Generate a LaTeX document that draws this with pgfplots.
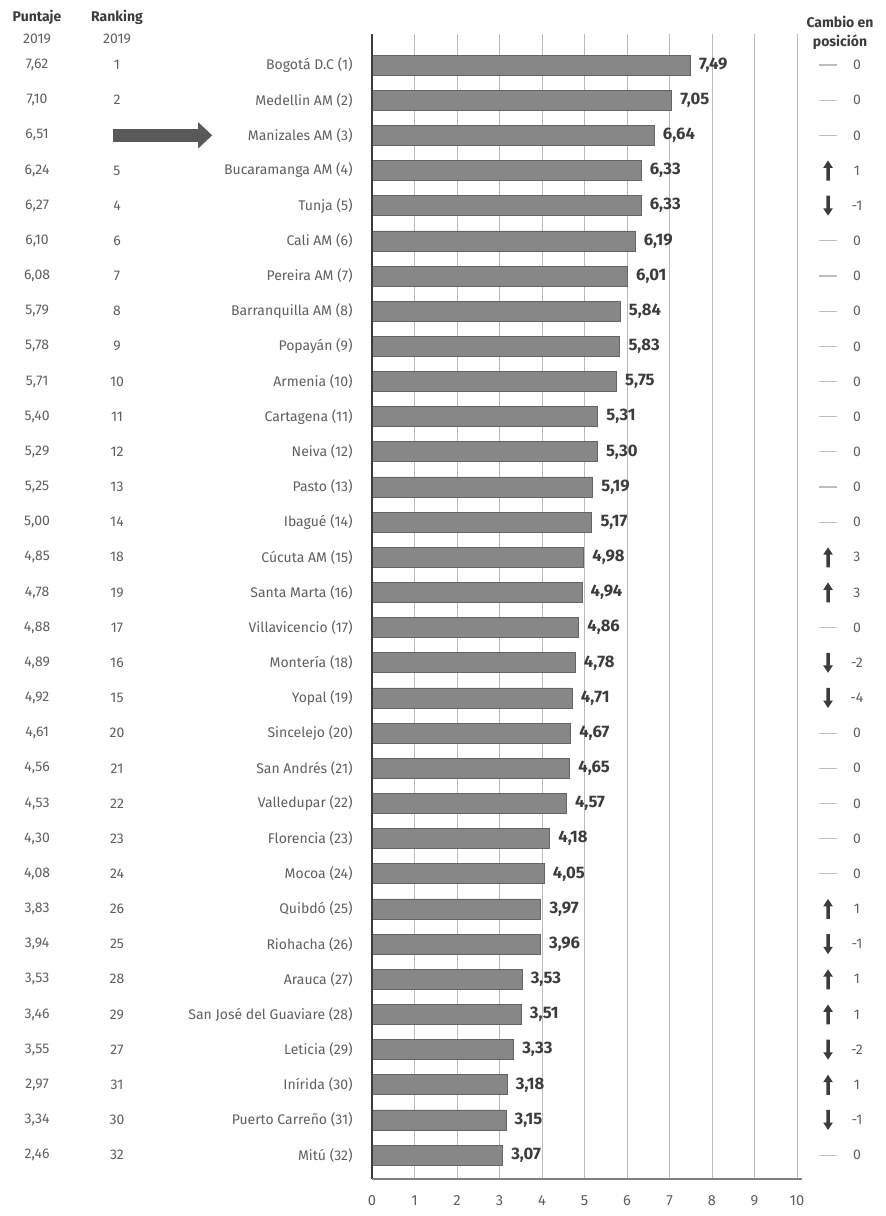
\documentclass[border=0pt]{standalone}
\usepackage{fontspec}
\setmainfont{Fira Sans}
\usepackage{pgfplots}
\pgfplotsset{compat=1.18}
\usepackage{pgfplotstable}
\usetikzlibrary{arrows.meta}

\definecolor{bargray}{RGB}{135,135,135}
\definecolor{baredge}{RGB}{100,100,100}
\definecolor{txtgray}{RGB}{95,95,95}
\definecolor{darktxt}{RGB}{60,60,60}
\definecolor{gridgray}{RGB}{185,185,185}

\pgfdeclareplotmark{uparr}{%
  \pgfpathmoveto{\pgfqpoint{0pt}{7.5pt}}%
  \pgfpathlineto{\pgfqpoint{3.6pt}{2pt}}%
  \pgfpathlineto{\pgfqpoint{1.3pt}{2pt}}%
  \pgfpathlineto{\pgfqpoint{1.3pt}{-7.5pt}}%
  \pgfpathlineto{\pgfqpoint{-1.3pt}{-7.5pt}}%
  \pgfpathlineto{\pgfqpoint{-1.3pt}{2pt}}%
  \pgfpathlineto{\pgfqpoint{-3.6pt}{2pt}}%
  \pgfpathclose\pgfusepathqfill}
\pgfdeclareplotmark{downarr}{%
  \pgfpathmoveto{\pgfqpoint{0pt}{-7.5pt}}%
  \pgfpathlineto{\pgfqpoint{3.6pt}{-2pt}}%
  \pgfpathlineto{\pgfqpoint{1.3pt}{-2pt}}%
  \pgfpathlineto{\pgfqpoint{1.3pt}{7.5pt}}%
  \pgfpathlineto{\pgfqpoint{-1.3pt}{7.5pt}}%
  \pgfpathlineto{\pgfqpoint{-1.3pt}{-2pt}}%
  \pgfpathlineto{\pgfqpoint{-3.6pt}{-2pt}}%
  \pgfpathclose\pgfusepathqfill}
\pgfdeclareplotmark{zdash}{%
  \pgfpathmoveto{\pgfqpoint{-7pt}{0pt}}%
  \pgfpathlineto{\pgfqpoint{7pt}{0pt}}%
  \pgfusepathqstroke}

\pgfplotstableread{
row value
1 7.49
2 7.05
3 6.64
4 6.33
5 6.33
6 6.19
7 6.01
8 5.84
9 5.83
10 5.75
11 5.31
12 5.30
13 5.19
14 5.17
15 4.98
16 4.94
17 4.86
18 4.78
19 4.71
20 4.67
21 4.65
22 4.57
23 4.18
24 4.05
25 3.97
26 3.96
27 3.53
28 3.51
29 3.33
30 3.18
31 3.15
32 3.07
}\bartab

\pgfplotstableread{
row score
1 7,62
2 7,10
3 6,51
4 6,24
5 6,27
6 6,10
7 6,08
8 5,79
9 5,78
10 5,71
11 5,40
12 5,29
13 5,25
14 5,00
15 4,85
16 4,78
17 4,88
18 4,89
19 4,92
20 4,61
21 4,56
22 4,53
23 4,30
24 4,08
25 3,83
26 3,94
27 3,53
28 3,46
29 3,55
30 2,97
31 3,34
32 2,46
}\scoretab

\pgfplotstableread{
row rank
1 1
2 2
4 5
5 4
6 6
7 7
8 8
9 9
10 10
11 11
12 12
13 13
14 14
15 18
16 19
17 17
18 16
19 15
20 20
21 21
22 22
23 23
24 24
25 26
26 25
27 28
28 29
29 27
30 31
31 30
32 32
}\ranktab

\pgfplotstableread{
row chg
1 0
2 0
3 0
4 1
5 -1
6 0
7 0
8 0
9 0
10 0
11 0
12 0
13 0
14 0
15 3
16 3
17 0
18 -2
19 -4
20 0
21 0
22 0
23 0
24 0
25 1
26 -1
27 1
28 1
29 -2
30 1
31 -1
32 0
}\chgtab

\pgfplotstableread{
row
4
15
16
25
27
28
30
}\uptab

\pgfplotstableread{
row
5
18
19
26
29
31
}\downtab

\pgfplotstableread{
row
1
2
3
6
7
8
9
10
11
12
13
14
17
20
21
22
23
24
32
}\zerotab

\begin{document}
\begin{tikzpicture}
\path[use as bounding box] (0,0) rectangle (663.75pt,-912pt);
\begin{axis}[
  at={(438.375pt,-454.875pt)}, anchor=center,
  scale only axis,
  width=318.75pt, height=858.75pt,
  xmin=0, xmax=10,
  ymin=0.118, ymax=32.68,
  y dir=reverse,
  clip=false,
  axis line style={draw=none},
  tick style={draw=none},
  xtick={0,1,...,10},
  xmajorgrids,
  major grid style={gridgray, line width=0.6pt},
  xticklabel style={font=\fontsize{11}{13}\selectfont, text=txtgray, yshift=-9pt},
  /pgf/number format/assume math mode=true,
  ytick={1,2,...,32},
  yticklabels={Bogotá D.C (1), Medellin AM (2), Manizales AM (3), Bucaramanga AM (4), Tunja (5), Cali AM (6), Pereira AM (7), Barranquilla AM (8), Popayán (9), Armenia (10), Cartagena (11), Neiva (12), Pasto (13), Ibagué (14), Cúcuta AM (15), Santa Marta (16), Villavicencio (17), Montería (18), Yopal (19), Sincelejo (20), San Andrés (21), Valledupar (22), Florencia (23), Mocoa (24), Quibdó (25), Riohacha (26), Arauca (27), San José del Guaviare (28), Leticia (29), Inírida (30), Puerto Carreño (31), Mitú (32)},
  yticklabel style={font=\fontsize{10.5}{12}\selectfont, text=txtgray, xshift=-11pt},
]
% bars
\addplot[xbar, bar width=15pt, bar shift=0pt, fill=bargray, draw=baredge, line width=0.5pt,
  point meta=x,
  nodes near coords={\pgfmathprintnumber[fixed, fixed zerofill, precision=2, use comma, assume math mode=true]{\pgfplotspointmeta}},
  nodes near coords style={font=\bfseries\fontsize{12.5}{14}\selectfont, text=darktxt, anchor=west, xshift=3pt}]
  table[x=value, y=row]{\bartab};
% axis lines
\draw[darktxt, line width=0.9pt] (axis cs:0,0.118) -- (axis cs:0,32.68);
\draw[gray, line width=1.2pt] (axis cs:0,32.68) -- (axis cs:10.12,32.68);
% left columns
\addplot[only marks, mark=none, point meta=explicit symbolic,
  nodes near coords, nodes near coords style={anchor=center, font=\fontsize{10.5}{12}\selectfont, text=txtgray}]
  table[x expr=-7.88, y=row, meta=score]{\scoretab};
\addplot[only marks, mark=none, point meta=explicit symbolic,
  nodes near coords, nodes near coords style={anchor=center, font=\fontsize{10.5}{12}\selectfont, text=txtgray}]
  table[x expr=-6.0, y=row, meta=rank]{\ranktab};
% highlight arrow
\draw[line width=10pt, color=darktxt!85, -{Triangle[length=10.5pt, width=19pt]}] (axis cs:-6.09,3) -- (axis cs:-3.76,3);
% change column
\addplot[only marks, mark=uparr, mark options={fill=darktxt, draw=none}]
  table[x expr=10.73, y=row]{\uptab};
\addplot[only marks, mark=downarr, mark options={fill=darktxt, draw=none}]
  table[x expr=10.73, y=row]{\downtab};
\addplot[only marks, mark=zdash, mark options={draw=gray!50, line width=0.8pt}]
  table[x expr=10.73, y=row]{\zerotab};
\addplot[only marks, mark=none, point meta=explicit symbolic,
  nodes near coords, nodes near coords style={anchor=center, font=\fontsize{10.5}{12}\selectfont, text=txtgray}]
  table[x expr=11.41, y=row, meta=chg]{\chgtab};
\end{axis}
% headers
\node[font=\bfseries\fontsize{10.5}{12}\selectfont, text=darktxt] at (27.75pt,-12.75pt) {Puntaje};
\node[font=\fontsize{10.5}{12}\selectfont, text=txtgray] at (27.75pt,-29.25pt) {2019};
\node[font=\bfseries\fontsize{10.5}{12}\selectfont, text=darktxt] at (87.75pt,-12.75pt) {Ranking};
\node[font=\fontsize{10.5}{12}\selectfont, text=txtgray] at (87.75pt,-29.25pt) {2019};
\node[font=\bfseries\fontsize{10.5}{12}\selectfont, text=darktxt] at (630pt,-16.5pt) {Cambio en};
\node[font=\bfseries\fontsize{10.5}{12}\selectfont, text=darktxt] at (630pt,-31.5pt) {posición};
\end{tikzpicture}
\end{document}
